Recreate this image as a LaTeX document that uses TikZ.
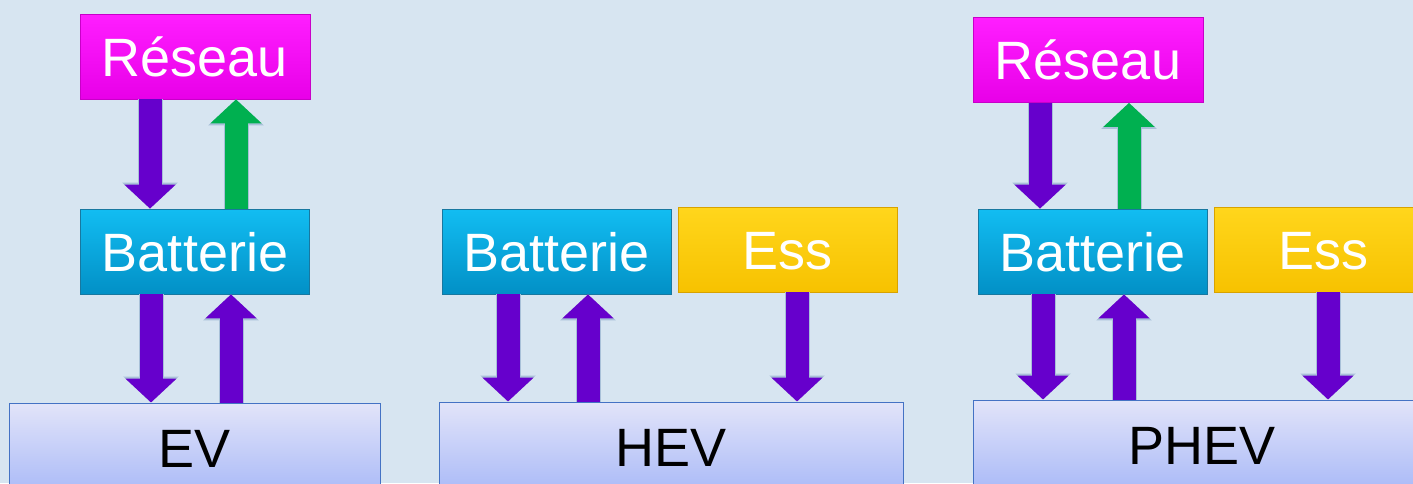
\documentclass[tikz,border=0pt]{standalone}
\usepackage{fontspec}
\setmainfont{Liberation Sans}
\usetikzlibrary{arrows.meta}
\definecolor{bgc}{HTML}{D7E5F1}
\definecolor{purp}{HTML}{6600CC}
\definecolor{grn}{HTML}{00B050}
\definecolor{aedge}{HTML}{A8C0D8}
\definecolor{magT}{HTML}{FF1EFF}
\definecolor{magB}{HTML}{E800E8}
\definecolor{magD}{HTML}{C800C8}
\definecolor{cyT}{HTML}{12BDF2}
\definecolor{cyB}{HTML}{0290C6}
\definecolor{cyD}{HTML}{1878A0}
\definecolor{yeT}{HTML}{FFD61C}
\definecolor{yeB}{HTML}{F7C200}
\definecolor{yeD}{HTML}{D8A200}
\definecolor{veT}{HTML}{E2E4F9}
\definecolor{veB}{HTML}{AABAF8}
\definecolor{veD}{HTML}{4472C4}
\tikzset{
  lbl/.style={font=\fontsize{54}{60}\selectfont, text height=39pt, text depth=0pt, inner sep=0pt},
  reseau/.style={lbl, text=white, top color=magT, bottom color=magB, draw=magD, line width=0.8pt, minimum width=230pt, minimum height=85pt},
  batt/.style={lbl, text=white, top color=cyT, bottom color=cyB, draw=cyD, line width=0.8pt, minimum width=229pt, minimum height=85pt},
  ess/.style={lbl, text=white, top color=yeT, bottom color=yeB, draw=yeD, line width=0.8pt, minimum width=219pt, minimum height=85pt},
  veh/.style={lbl, text=black, top color=veT, bottom color=veB, draw=veD, line width=1pt, minimum height=90pt},
  barrow/.style={line width=23pt, -{Triangle[width=50pt,length=24pt]},
    preaction={draw=aedge, line width=25pt, -{Triangle[width=54pt,length=26pt]}}},
  dnarrow/.style={barrow, draw=purp, fill=purp},
  uparrow/.style={barrow, draw=purp, fill=purp},
  grarrow/.style={barrow, draw=grn, fill=grn},
}
\begin{document}
\begin{tikzpicture}[x=1pt,y=-1pt]
\useasboundingbox (0,0) rectangle (1413,483);
\clip (0,0) rectangle (1413,483);
\fill[bgc] (0,0) rectangle (1413,483);

% EV
\node[reseau] (rE) at (195,56.5) {Réseau};
\node[batt] (bE) at (195,251.5) {Batterie};
\node[veh, minimum width=371pt] (ev) at (194.5,448) {EV};
\draw[dnarrow] ([xshift=-45pt]rE.south) -- ([xshift=-45pt]bE.north);
\draw[grarrow] ([xshift=41pt]bE.north) -- ([xshift=41pt]rE.south);
\draw[dnarrow] ([xshift=-44pt]bE.south) -- ([xshift=-43.5pt]ev.north);
\draw[uparrow] ([xshift=36.5pt]ev.north) -- ([xshift=36pt]bE.south);

% HEV
\node[batt] (bH) at (556.5,251.5) {Batterie};
\node[ess] (eH) at (787.5,249.5) {Ess};
\node[veh, minimum width=464pt] (hev) at (671,447) {HEV};
\draw[dnarrow] ([xshift=-48.5pt]bH.south) -- ([xshift=-163pt]hev.north);
\draw[uparrow] ([xshift=-83pt]hev.north) -- ([xshift=31.5pt]bH.south);
\draw[dnarrow] ([xshift=9.5pt]eH.south) -- ([xshift=126pt]hev.north);

% PHEV
\node[reseau] (rP) at (1088,60) {Réseau};
\node[batt] (bP) at (1092.5,251.5) {Batterie};
\node[ess] (eP) at (1323.5,249.5) {Ess};
\node[veh, minimum width=458pt] (phev) at (1202,445) {PHEV};
\draw[dnarrow] ([xshift=-48pt]rP.south) -- ([xshift=-52.5pt]bP.north);
\draw[grarrow] ([xshift=36.5pt]bP.north) -- ([xshift=41pt]rP.south);
\draw[dnarrow] ([xshift=-49.5pt]bP.south) -- ([xshift=-159pt]phev.north);
\draw[uparrow] ([xshift=-78pt]phev.north) -- ([xshift=31.5pt]bP.south);
\draw[dnarrow] ([xshift=4.5pt]eP.south) -- ([xshift=126pt]phev.north);
\end{tikzpicture}
\end{document}
